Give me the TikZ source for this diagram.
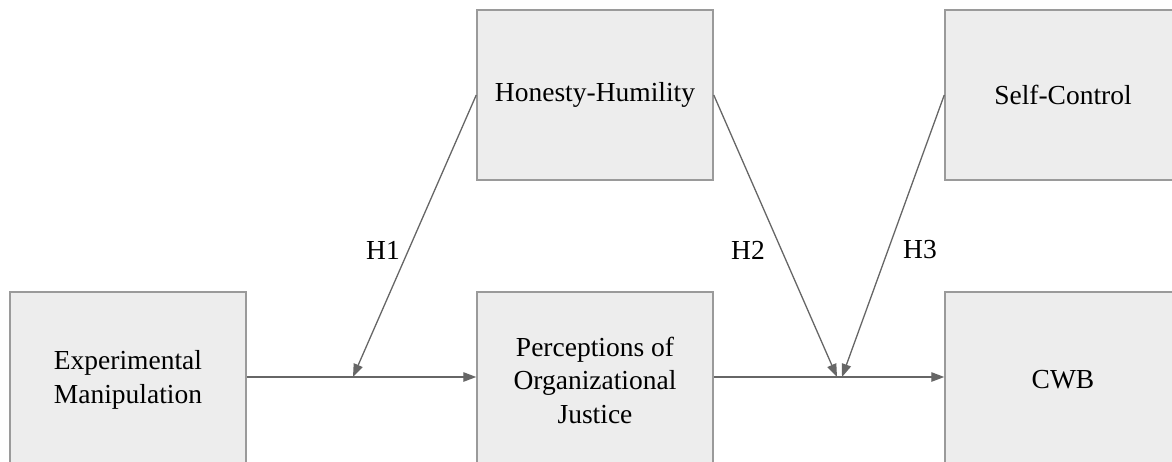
\documentclass[tikz,border=0pt]{standalone}
\usepackage{fontspec}
\setmainfont{Liberation Serif}
\usetikzlibrary{arrows.meta}
\definecolor{boxfill}{HTML}{EDEDED}
\definecolor{boxline}{HTML}{9A9A9A}
\definecolor{arrowcol}{HTML}{666666}
\tikzset{
  varbox/.style={draw=boxline, fill=boxfill, line width=1.5pt, minimum width=236pt, minimum height=170pt, inner sep=0pt, align=center, font=\fontsize{27.5}{33.5}\selectfont},
  lowbox/.style={varbox, minimum height=176pt},
  link/.style={draw=arrowcol, line width=1.3pt, -{Triangle[length=13pt,width=9.5pt]}},
  hlabel/.style={font=\fontsize{27.5}{33}\selectfont, inner sep=0pt}
}
\begin{document}
\begin{tikzpicture}[x=1pt,y=-1pt]
\useasboundingbox (0,0) rectangle (1172,461);
\clip (0,0) rectangle (1172,461);
\node[lowbox] (exp) at (128,380) {Experimental\\Manipulation};
\node[lowbox] (perc) at (595,380) {Perceptions of\\Organizational\\Justice};
\node[lowbox] (cwb) at (1063,380) {CWB};
\node[varbox] (hh) at (595,95) {Honesty-Humility};
\node[varbox] (sc) at (1063,95) {Self-Control};
\coordinate (m1) at (353,377);
\coordinate (m2) at (837,377);
\coordinate (m3) at (842,377);
\draw[link] (exp.east |- m1) -- (perc.west |- m1);
\draw[link] (perc.east |- m1) -- (cwb.west |- m1);
\draw[link] (hh.west) -- (m1);
\draw[link] (hh.east) -- (m2);
\draw[link] (sc.west) -- (m3);
\node[hlabel] (h1) at (383,250) {H1};
\node[hlabel] (h2) at (748,250) {H2};
\node[hlabel] (h3) at (920,250) {H3};
\end{tikzpicture}
\end{document}
